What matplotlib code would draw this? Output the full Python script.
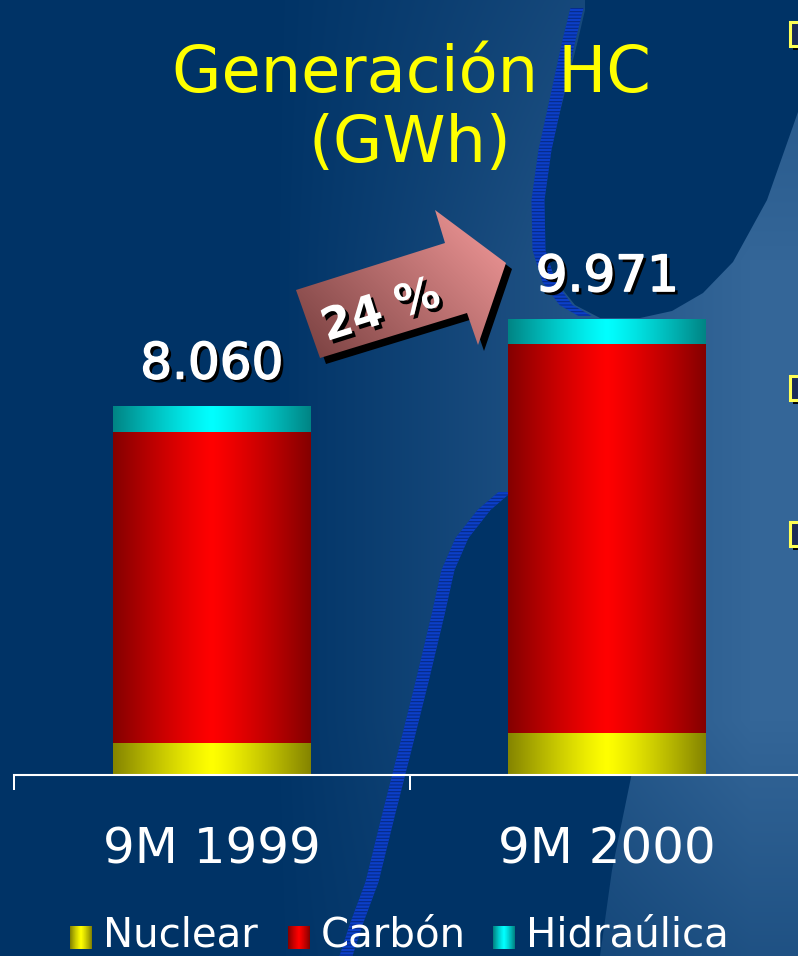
import numpy as np
import matplotlib
matplotlib.use('Agg')
import matplotlib.pyplot as plt
from matplotlib.patches import Polygon, Rectangle
import matplotlib.patheffects as pe

# ---- datos (GWh) ----
categories = ['9M 1999', '9M 2000']
series_names = ['Nuclear', 'Carbón', 'Hidraúlica']
nuclear = [700, 920]
carbon = [6790, 8506]
hidraulica = [570, 545]
total_labels = ['8.060', '9.971']
growth_label = '24 %'
title_lines = ['Generación HC', '(GWh)']

seg_colors = [(1.0, 1.0, 0.0), (1.0, 0.0, 0.0), (0.0, 1.0, 1.0)]

W, H = 798, 956
navy = np.array([0, 51, 102]) / 255
light = np.array([52, 102, 152]) / 255


def cyl(c_mid, edge=0.52, n=120):
    # sombreado tipo cilindro: oscuro en bordes, claro en el centro
    u = np.linspace(0, 1, n)
    f = edge + (1 - edge) * (1 - np.abs(2 * u - 1) ** 1.2)
    return (np.array(c_mid)[None, :] * f[:, None])[None, :, :]


fig = plt.figure(figsize=(W / 100, H / 100), dpi=100)
fig.patch.set_facecolor(navy)

# ---- fondo (plantilla) ----
bg = fig.add_axes([0, 0, 1, 1], zorder=0)
yy, xx = np.mgrid[0:H, 0:W]
t = np.clip((xx - 270) / 480, 0, 1)
v = 1 - 0.4 * np.clip((yy - 720) / 230, 0, 1) - 0.35 * np.clip((260 - yy) / 260, 0, 1)
img = navy + (light - navy) * (t * v)[..., None]
bg.imshow(img, extent=(0, W, H, 0), aspect='auto', interpolation='bilinear', zorder=0)

upper_blob = [(585, 0), (585, 10), (578, 40), (563, 100), (550, 150), (543, 200), (545, 250),
              (555, 280), (575, 305), (600, 318), (640, 318), (672, 311), (703, 293),
              (733, 262), (767, 200), (798, 112), (798, 0)]
lower_band = [(514, 490), (490, 507), (466, 535), (452, 567), (442, 612), (426, 680),
              (409, 748), (392, 815), (376, 880), (360, 925), (350, 956), (600, 956),
              (612, 870), (636, 753), (660, 650), (690, 540), (700, 470), (640, 470), (560, 480)]
for poly in [upper_blob, lower_band]:
    bg.add_patch(Polygon(poly, closed=True, facecolor=navy, edgecolor='none', zorder=1))

upper_stripe = [(577, 8), (569, 40), (556, 100), (545, 150), (538, 200), (539, 250),
                (549, 282), (566, 305), (585, 316)]
lower_stripe = [(505, 492), (484, 510), (462, 538), (448, 570), (438, 615), (422, 682),
                (405, 750), (388, 817), (372, 882), (356, 925), (346, 956)]
plt.rcParams['hatch.linewidth'] = 0.8
for cl in [upper_stripe, lower_stripe]:
    cl = np.array(cl, dtype=float)
    left = cl - [6.5, 0]
    right = cl + [6.5, 0]
    poly = np.vstack([left, right[::-1]])
    bg.add_patch(Polygon(poly, closed=True, facecolor='#0c3fc8', edgecolor='#062a86',
                         linewidth=0, hatch='-----', zorder=2))
bg.set_xlim(0, W)
bg.set_ylim(H, 0)
bg.axis('off')

# ---- grafico de barras apiladas ----
ax = fig.add_axes([14 / W, 1 - 775 / H, 1 - 14 / W, 775 / H], zorder=1)
ax.patch.set_alpha(0)
x = np.arange(len(categories))
bottom = np.zeros(len(categories))
for vals, col in zip([nuclear, carbon, hidraulica], seg_colors):
    bars = ax.bar(x, vals, 0.5, bottom=bottom, color=col, linewidth=0, zorder=2)
    for b in bars:
        im = ax.imshow(cyl(col), extent=(b.get_x(), b.get_x() + b.get_width(),
                                         b.get_y(), b.get_y() + b.get_height()),
                       aspect='auto', zorder=2.5, interpolation='bilinear')
        im.set_clip_path(b)
    bottom += np.array(vals)

shadow_fx = [pe.SimplePatchShadow(offset=(2.4, -2.4), shadow_rgbFace='black', alpha=1.0),
             pe.Stroke(linewidth=1.1, foreground='white'), pe.Normal()]
for i, (tot, lab) in enumerate(zip(bottom, total_labels)):
    ax.annotate(lab, (i, tot), xytext=(0, 20), textcoords='offset points',
                ha='center', va='baseline', fontsize=36, color='white',
                path_effects=shadow_fx, zorder=4)

for s in ['top', 'left', 'right']:
    ax.spines[s].set_visible(False)
ax.spines['bottom'].set_color('white')
ax.spines['bottom'].set_linewidth(1.5)
ax.set_yticks([])
ax.set_xticks(x, categories)
ax.tick_params(axis='x', which='major', length=0, pad=36, labelsize=36, labelcolor='white')
ax.set_xticks([-0.5, 0.5, 1.5], minor=True)
ax.tick_params(axis='x', which='minor', length=10.8, width=1.44, color='white', direction='out')
ax.set_xlim(-0.5, -0.5 + (W - 14) / 395.5)
ax.set_ylim(0, 775 * 21.86)

# ---- capa superior: flecha, titulo, leyenda ----
ov = fig.add_axes([0, 0, 1, 1], zorder=2)
ov.patch.set_alpha(0)

arrow_pts = [(296, 290), (445, 243), (435, 210), (506, 263), (478, 345), (467, 313), (320, 358)]
ov.add_patch(Polygon(np.array(arrow_pts) + [6, 6], closed=True, facecolor='black',
                     edgecolor='none', zorder=1))
arrow = Polygon(arrow_pts, closed=True, facecolor='none', edgecolor='none', zorder=1.5)
ov.add_patch(arrow)
gx, gy = np.meshgrid(np.linspace(290, 515, 120), np.linspace(205, 365, 90))
ga = np.clip(((gx - 296) + (360 - gy)) / 360, 0, 1)[..., None]
dark_pink = np.array([118, 62, 62]) / 255
light_pink = np.array([245, 155, 155]) / 255
agrad = dark_pink + (light_pink - dark_pink) * ga
aim = ov.imshow(agrad, extent=(290, 515, 365, 205), aspect='auto', interpolation='bilinear',
                zorder=2)
aim.set_clip_path(arrow)
ov.text(381, 311, growth_label, rotation=17.5, rotation_mode='anchor', ha='center', va='center',
        fontsize=32, fontweight='bold', color='white', zorder=3,
        path_effects=[pe.SimplePatchShadow(offset=(2.5, -2.5), shadow_rgbFace='black', alpha=1.0),
                      pe.Normal()])

ov.text(411, 92, title_lines[0], ha='center', va='baseline', fontsize=46, color='#ffff00')
ov.text(410, 162, title_lines[1], ha='center', va='baseline', fontsize=46, color='#ffff00')

# vinetas de la diapositiva (cortadas en el borde derecho)
for y0 in [22, 376, 522]:
    ov.add_patch(Rectangle((793, y0 + 4), 14, 24, facecolor='black', edgecolor='none', zorder=1))
    ov.add_patch(Rectangle((790, y0), 14, 24, facecolor='#1c2c58', edgecolor='#ffff55',
                           linewidth=2.2, zorder=1.2))

# leyenda
legend_patch_x = [70, 288, 493]
legend_text_x = [103, 321, 526]
for name, col, px, tx in zip(series_names, seg_colors, legend_patch_x, legend_text_x):
    ov.imshow(cyl(col, edge=0.5), extent=(px, px + 22, 949, 926), aspect='auto',
              interpolation='nearest', zorder=2)
    ov.text(tx, 955.5, name, ha='left', va='bottom', fontsize=29, color='white', zorder=3)

ov.set_xlim(0, W)
ov.set_ylim(H, 0)
ov.axis('off')

fig.savefig('out.png', dpi=100, facecolor=fig.get_facecolor())
